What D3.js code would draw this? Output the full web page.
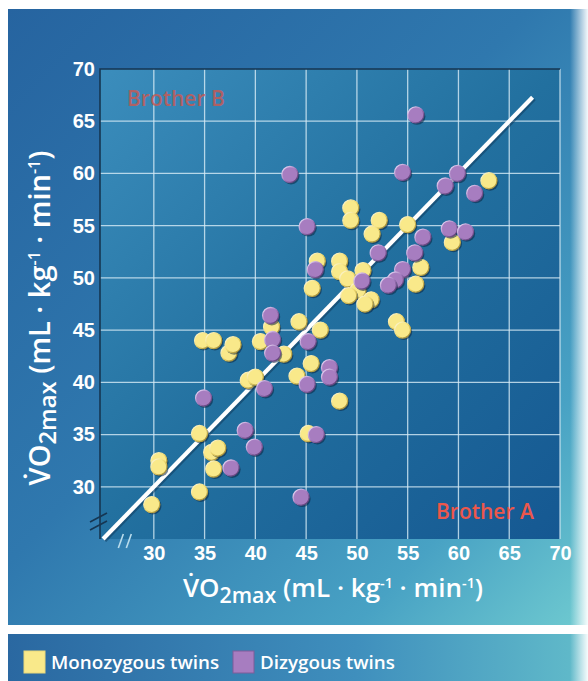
<!DOCTYPE html>
<html lang="en">
<head>
<meta charset="UTF-8">
<script src="https://d3js.org/d3.v7.min.js"></script>
<style>
  body { margin: 0; background: #fff; }
  svg { display: block; font-family: "Open Sans", "DejaVu Sans", sans-serif; }
</style>
</head>
<body>
<div id="chart"></div>
<script>
// monozygous twins: [brother A, brother B]
const monoA = [29.8, 30.5, 30.5, 34.5, 34.5, 35.7, 36.3, 35.9, 34.8, 35.9, 37.4, 37.8, 39.3, 40.0, 40.5,
  41.6, 42.8, 44.3, 45.5, 44.1, 45.2, 46.4, 48.3, 53.9, 54.5, 49.4, 49.4, 52.2, 51.5, 55.0,
  46.1, 45.6, 48.3, 48.3, 49.1, 50.6, 50.1, 49.2, 51.4, 50.8, 56.3, 55.8, 59.4, 63.0];
const monoB = [28.3, 32.5, 31.9, 29.5, 35.1, 33.3, 33.7, 31.7, 44.0, 44.0, 42.8, 43.6, 40.2, 40.5, 43.9,
  45.3, 42.7, 45.8, 41.8, 40.6, 35.1, 45.0, 38.2, 45.8, 45.0, 56.7, 55.5, 55.5, 54.2, 55.1,
  51.6, 49.0, 51.6, 50.6, 49.9, 50.7, 48.8, 48.3, 47.9, 47.5, 51.0, 49.4, 53.4, 59.3];
// dizygous twins
const diA = [55.8, 43.4, 54.5, 59.9, 58.7, 61.6, 45.1, 56.5, 59.1, 60.7, 52.1, 55.7, 54.5, 53.8, 53.1,
  45.9, 50.5, 41.5, 41.7, 41.7, 45.2, 47.3, 47.3, 45.1, 40.9, 34.9, 39.0, 46.0, 39.9, 37.6, 44.5];
const diB = [65.6, 59.9, 60.1, 60.0, 58.8, 58.1, 54.9, 53.9, 54.7, 54.4, 52.4, 52.4, 50.8, 49.8, 49.3,
  50.8, 49.7, 46.4, 44.1, 42.8, 43.9, 41.4, 40.5, 39.8, 39.4, 38.5, 35.4, 35.0, 33.8, 31.8, 29.0];
const ticks = [30, 35, 40, 45, 50, 55, 60, 65, 70];
const identity = [25, 67.3];
const legendLabels = ["Monozygous twins", "Dizygous twins"];

const W = 588, H = 681;
const svg = d3.select("#chart").append("svg").attr("width", W).attr("height", H);
const defs = svg.append("defs");

function lin(id, x2, y2, stops) {
  const g = defs.append("linearGradient").attr("id", id)
    .attr("x1", 0).attr("y1", 0).attr("x2", x2).attr("y2", y2);
  stops.forEach(s => g.append("stop").attr("offset", s[0]).attr("stop-color", s[1]).attr("stop-opacity", s[2] ?? 1));
}
lin("outerBg", 1, 1, [[0, "#2664a0"], [0.45, "#2f78ae"], [0.8, "#48a2c4"], [1, "#6fcad0"]]);
lin("plotBg", 1, 1, [[0, "#3b8dbc"], [0.5, "#22709f"], [1, "#155892"]]);
lin("legendBg", 1, 0, [[0, "#2a68a1"], [0.6, "#3f8fbd"], [1, "#62bcca"]]);
lin("edgeFade", 1, 0, [[0, "#fff", 0], [1, "#fff", 0.95]]);
lin("rimY", 1, 1, [[0, "#fffbe6"], [0.5, "#efd96c"], [1, "#8c7628"]]);
lin("rimP", 1, 1, [[0, "#f4e8ff"], [0.5, "#a47cbf"], [1, "#4b2d63"]]);

// panels
svg.append("rect").attr("x", 8).attr("y", 9).attr("width", W - 8).attr("height", 616).attr("fill", "url(#outerBg)");
svg.append("rect").attr("x", 8).attr("y", 634).attr("width", W - 8).attr("height", H - 634).attr("fill", "url(#legendBg)");
svg.append("rect").attr("x", 570).attr("y", 0).attr("width", 18).attr("height", H).attr("fill", "url(#edgeFade)");

const x = d3.scaleLinear().domain([24.7, 70]).range([100, 560]);
const y = d3.scaleLinear().domain([25, 70]).range([539, 69]);

svg.append("rect")
  .attr("x", x(24.7)).attr("y", y(70))
  .attr("width", x(70) - x(24.7)).attr("height", y(25) - y(70))
  .attr("fill", "url(#plotBg)");

// grid
const grid = svg.append("g").attr("stroke", "#d8ecf6").attr("stroke-opacity", 0.8).attr("stroke-width", 1.3);
grid.selectAll(".gx").data(ticks).join("line")
  .attr("x1", d => x(d)).attr("x2", d => x(d)).attr("y1", y(70)).attr("y2", y(25));
grid.selectAll(".gy").data(ticks.filter(d => d < 70)).join("line")
  .attr("x1", x(24.7)).attr("x2", x(70)).attr("y1", d => y(d)).attr("y2", d => y(d));

// frame: dark left and top edges
svg.append("path")
  .attr("d", `M${x(24.7)},${y(25)}V${y(70)}H${x(70)}`)
  .attr("fill", "none").attr("stroke", "#163652").attr("stroke-width", 1.6);

// axis breaks
const brk = svg.append("g").attr("stroke-width", 1.6);
[0, 8].forEach(o => {
  brk.append("line").attr("stroke", "#163652")
    .attr("x1", 90).attr("y1", y(27.1) + o + 5).attr("x2", 107).attr("y2", y(27.1) + o - 4);
  brk.append("line").attr("stroke", "#b9dcec")
    .attr("x1", x(26.8) + o - 3).attr("y1", y(25) + 9).attr("x2", x(26.8) + o + 2).attr("y2", y(25) - 5);
});

// identity line
svg.append("line")
  .attr("x1", x(identity[0]) + 1.5).attr("y1", y(identity[0]) + 1.5)
  .attr("x2", x(identity[1]) + 1.5).attr("y2", y(identity[1]) + 1.5)
  .attr("stroke", "#0d3558").attr("stroke-opacity", 0.5).attr("stroke-width", 4.5);
svg.append("line")
  .attr("x1", x(identity[0])).attr("y1", y(identity[0]))
  .attr("x2", x(identity[1])).attr("y2", y(identity[1]))
  .attr("stroke", "#ffffff").attr("stroke-width", 4.2);

// axes
const tickFont = g => g.call(s => s.select(".domain").remove())
  .selectAll("text").attr("fill", "#ffffff").style("font-size", "20px").style("font-weight", 600);
svg.append("g").attr("transform", `translate(0,${y(25)})`)
  .call(d3.axisBottom(x).tickValues(ticks).tickSize(0).tickPadding(7))
  .call(tickFont);
svg.append("g").attr("transform", `translate(${x(24.7)},0)`)
  .call(d3.axisLeft(y).tickValues(ticks).tickSize(0).tickPadding(5))
  .call(tickFont);

// points
function drawSeries(ax, bx, fill, rim) {
  const data = ax.map((a, i) => [a, bx[i]]);
  const g = svg.append("g");
  data.forEach(d => {
    g.append("circle").attr("cx", x(d[0]) + 1.2).attr("cy", y(d[1]) + 1.5).attr("r", 8.4)
      .attr("fill", "#0b2440").attr("fill-opacity", 0.55);
    g.append("circle").attr("cx", x(d[0])).attr("cy", y(d[1])).attr("r", 8)
      .attr("fill", fill).attr("stroke", rim).attr("stroke-width", 1.3);
  });
}
drawSeries(monoA, monoB, "#f9e98a", "url(#rimY)");
drawSeries(diA, diB, "#a77dc0", "url(#rimP)");

// brother labels
svg.append("text").attr("x", 127).attr("y", 106).text("Brother B")
  .attr("fill", "#c65a55").attr("fill-opacity", 0.85).style("font-size", "21px").style("font-weight", 600);
svg.append("text").attr("x", 436).attr("y", 519).text("Brother A")
  .attr("fill", "#ec574b").style("font-size", "21px").style("font-weight", 600);

// axis titles
function axisTitle(t, size) {
  const s = size, sm = size * 0.82, sup = size * 0.55;
  t.attr("fill", "#ffffff").style("font-weight", 600).style("font-size", s + "px");
  t.append("tspan").text("V\u0307O");
  t.append("tspan").attr("dy", s * 0.22).style("font-size", sm + "px").text("2max");
  t.append("tspan").attr("dy", -s * 0.22).text(" (mL \u00B7 kg");
  t.append("tspan").attr("dy", -s * 0.35).style("font-size", sup + "px").text("-1");
  t.append("tspan").attr("dy", s * 0.35).text(" \u00B7 min");
  t.append("tspan").attr("dy", -s * 0.35).style("font-size", sup + "px").text("-1");
  t.append("tspan").attr("dy", s * 0.35).text(")");
}
svg.append("text").attr("x", 333).attr("y", 597).attr("text-anchor", "middle")
  .call(t => axisTitle(t, 26));
svg.append("text").attr("transform", "translate(50,318) rotate(-90)").attr("text-anchor", "middle")
  .call(t => axisTitle(t, 29));

// legend
const legColors = ["#f9e98a", "#a77dc0"];
const legX = [24, 233];
legendLabels.forEach((lab, i) => {
  svg.append("rect").attr("x", legX[i]).attr("y", 651).attr("width", 21).attr("height", 22)
    .attr("fill", legColors[i]).attr("stroke", i ? "#7e5c99" : "#e9d77a").attr("stroke-width", 1);
  svg.append("text").attr("x", legX[i] + 27).attr("y", 669).text(lab)
    .attr("fill", "#ffffff").style("font-size", "18.8px").style("font-weight", 600);
});
</script>
</body>
</html>
